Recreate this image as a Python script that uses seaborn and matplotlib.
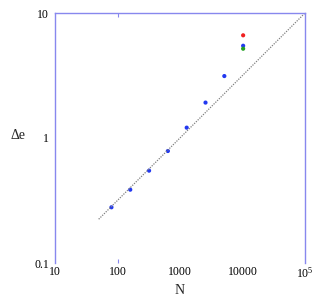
import pandas as pd
import seaborn as sns
import matplotlib.pyplot as plt

# values
n_blue = [80, 160, 320, 640, 1280, 2560, 5120, 10240]
de_blue = [0.279, 0.386, 0.548, 0.787, 1.21, 1.92, 3.13, 5.47]
n_red = [10240]
de_red = [6.63]
n_green = [10240]
de_green = [5.18]

# dotted guide line end points
guide_n = [50, 100000]
guide_de = [0.224, 10]

x_ticks = [10, 100, 1000, 10000, 100000]
x_labels = ['10', '100', '1000', '10000', r'$\mathregular{10^5}$']
y_ticks = [0.1, 1, 10]
y_labels = ['0.1', '1', '10']

data = pd.DataFrame({
    'N': n_blue + n_red + n_green,
    'de': de_blue + de_red + de_green,
    'run': ['blue'] * len(n_blue) + ['red'] * len(n_red) + ['green'] * len(n_green),
})
guide = pd.DataFrame({'N': guide_n, 'de': guide_de})

sns.set_style('white')
plt.rcParams['font.family'] = ['Liberation Serif', 'DejaVu Serif']
plt.rcParams['mathtext.fontset'] = 'stix'

fig = plt.figure(figsize=(3.19, 3.0), dpi=100)
ax = fig.add_axes([55 / 319, 37 / 300, 250 / 319, 250 / 300])

sns.lineplot(x='N', y='de', data=guide, ax=ax, color='#808080',
             linestyle=(0, (1, 1)), linewidth=0.9)
sns.scatterplot(x='N', y='de', hue='run', data=data, ax=ax,
                palette={'blue': '#2238f0', 'red': '#f02020', 'green': '#22a022'},
                s=9, linewidth=0, legend=False)

ax.set_xscale('log')
ax.set_yscale('log')
ax.set_xlim(10, 100000)
ax.set_ylim(0.1, 10)

ax.set_xticks(x_ticks)
ax.set_xticklabels(x_labels)
ax.set_yticks(y_ticks)
ax.set_yticklabels(y_labels)
ax.xaxis.set_minor_locator(plt.NullLocator())
ax.yaxis.set_minor_locator(plt.NullLocator())
ax.tick_params(axis='both', which='major', length=0, labelsize=8.5, colors='black')
ax.tick_params(axis='x', pad=2.5)
ax.tick_params(axis='y', pad=4.5)

# the only visible tick marks sit at N=100, top and bottom
ax.xaxis.remove_overlapping_locs = False
ax.set_xticks([100], minor=True)
ax.tick_params(axis='x', which='minor', direction='in', length=3, width=0.8,
               color='#8888ee', top=True, bottom=True, labelbottom=False)

spine_color = '#8888ee'
for side in ['left', 'top', 'right']:
    ax.spines[side].set_color(spine_color)
    ax.spines[side].set_linewidth(1.0)
ax.spines['bottom'].set_visible(False)

ax.set_xlabel('N', fontsize=10)
ax.xaxis.set_label_coords(0.5, -0.082)
ax.set_ylabel('Δe', rotation=0, fontsize=10, ha='center', va='center')
ax.yaxis.set_label_coords(-0.148, 0.51)

fig.savefig('out.png', dpi=100)
